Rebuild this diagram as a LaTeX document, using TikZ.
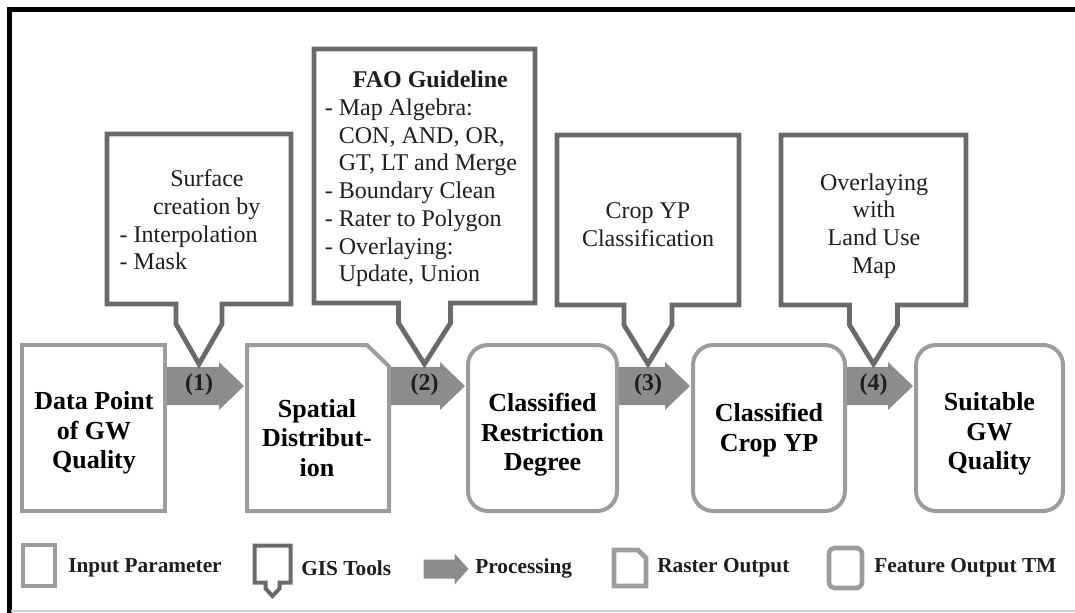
\documentclass[tikz,border=0pt]{standalone}
\usepackage{fontspec}
\setmainfont{Liberation Serif}
\usetikzlibrary{calc}
\definecolor{boxgray}{HTML}{9C9C9C}
\definecolor{callgray}{HTML}{6A6A6A}
\definecolor{arrowgray}{HTML}{8C8C8C}
\definecolor{framegray}{HTML}{D0D0D0}
\definecolor{txtdark}{HTML}{1E1E1E}
\newcommand\procarrow[2]{%
  \fill[proc] ($(#1.east|-ay)+(2,-19)$) -- ($(#2.west|-ay)+(-28,-19)$) -- ($(#2.west|-ay)+(-28,-24)$)
    -- ($(#2.west|-ay)+(-3,0)$) -- ($(#2.west|-ay)+(-28,24)$) -- ($(#2.west|-ay)+(-28,19)$)
    -- ($(#1.east|-ay)+(2,19)$) -- cycle;}
\newcommand\calloutframe[3]{%
  \draw[callline] ($(#1.south)+(-#3,0)$) -- (#1.south west) -- (#1.north west) -- (#1.north east)
    -- (#1.south east) -- ($(#1.south)+(#3,0)$) -- ($(#1.south)+(#3,20)$) -- (#2)
    -- ($(#1.south)+(-#3,20)$) -- cycle;}
\begin{document}
\begin{tikzpicture}[x=0.75pt,y=-0.75pt,
  inbox/.style={draw=boxgray, line width=3pt, minimum height=124.5pt, inner sep=0pt, outer sep=0pt},
  featbox/.style={inbox, rounded corners=15pt},
  rastbox/.style={inbox, draw=none},
  boxtxt/.style={align=center, inner sep=0pt, font=\fontsize{19.5}{22}\selectfont\bfseries},
  callbox/.style={minimum height=127.5pt, inner sep=0pt, outer sep=0pt},
  callline/.style={draw=callgray, line width=3.6pt, line join=miter},
  calltxt/.style={font=\fontsize{18}{20.8}\selectfont, text=txtdark, inner sep=0pt},
  proc/.style={fill=arrowgray},
  plabel/.style={font=\fontsize{18}{20}\selectfont\bfseries, inner sep=0pt, text=txtdark},
  legtxt/.style={font=\fontsize{16}{18}\selectfont\bfseries, anchor=west, inner sep=0pt, text=txtdark},
  legicon/.style={draw=boxgray, line width=3.5pt, inner sep=0pt, outer sep=0pt}
]
\useasboundingbox (0,0) rectangle (1075,612);
% frame
\draw[black, line width=3.5pt] (9.5,615) -- (9.5,9.5) -- (1080,9.5);
\draw[framegray, line width=1.2pt] (11,611) -- (1075,611);

\coordinate (ay) at (0,386);
\coordinate (tipy) at (0,364);
\coordinate (laby) at (0,385);

% main boxes
\node[inbox, minimum width=107.25pt] (b1) at (93.5,428) {};
\node[rastbox, minimum width=106.5pt] (b2) at (318,428) {};
\draw[draw=boxgray, line width=3pt] (b2.south west) -- (b2.north west) -- ([xshift=-16.5pt]b2.north east)
  -- ([yshift=-16pt]b2.north east) -- (b2.south east) -- cycle;
\node[featbox, minimum width=111.75pt] (b3) at (542.5,428) {};
\node[featbox, minimum width=114pt] (b4) at (769,428) {};
\node[featbox, minimum width=110.25pt] (b5) at (989.5,428) {};

\node[boxtxt] (b1t) at (94,433) {Data Point\\of GW\\Quality};
\node[boxtxt] (b2t) at (317,438) {Spatial\\Distribut-\\ion};
\node[boxtxt] (b3t) at (542.5,435) {Classified\\Restriction\\Degree};
\node[boxtxt] (b4t) at (769,430) {Classified\\Crop YP};
\node[boxtxt] (b5t) at (989.5,434) {Suitable\\GW\\Quality};

% processing arrows
\procarrow{b1}{b2}
\procarrow{b2}{b3}
\procarrow{b3}{b4}
\procarrow{b4}{b5}

% callouts
\node[callbox, minimum width=138pt] (c1) at (199,219) {};
\node[callbox, minimum width=165.75pt, minimum height=190.5pt] (c2) at (424.5,176) {};
\node[callbox, minimum width=136.5pt] (c3) at (648,220) {};
\node[callbox, minimum width=138.75pt] (c4) at (873.5,220) {};
\coordinate (t1) at (c1.south |- tipy);
\coordinate (t2) at (c2.south |- tipy);
\coordinate (t3) at (c3.south |- tipy);
\coordinate (t4) at (c4.south |- tipy);
\calloutframe{c1}{t1}{23}
\calloutframe{c2}{t2}{26}
\calloutframe{c3}{t3}{24}
\calloutframe{c4}{t4}{24}

\node[calltxt, align=left] (c1t) at (190,220) {\hspace*{38pt}Surface\\\hspace*{25pt}creation by\\- Interpolation\\- Mask};
\node[calltxt, align=left] (c2t) at (421,179) {\hspace*{21pt}\textbf{FAO Guideline}\\- Map Algebra:\\\hphantom{- }CON, AND, OR,\\\hphantom{- }GT, LT and Merge\\- Boundary Clean\\- Rater to Polygon\\- Overlaying:\\\hphantom{- }Update, Union};
\node[calltxt, align=center] (c3t) at (648,225) {Crop YP\\Classification};
\node[calltxt, align=center] (c4t) at (874,226) {Overlaying\\with\\Land Use\\Map};

% arrow labels
\node[plabel] (l1) at (t1 |- laby) {(1)};
\node[plabel] (l2) at (t2 |- laby) {(2)};
\node[plabel] (l3) at (t3 |- laby) {(3)};
\node[plabel] (l4) at (t4 |- laby) {(4)};

% legend
\node[legicon, minimum width=24pt, minimum height=30.75pt] (li) at (39,565.5) {};
\node[legtxt] (lit) at (68,568) {Input Parameter};

\node[inner sep=0pt, outer sep=0pt, minimum width=27pt, minimum height=27.75pt] (lg) at (272.5,564) {};
\coordinate (lgt) at (272.5,596);
\draw[draw=callgray, line width=3pt, line join=miter] ($(lg.south)+(-7,0)$) -- (lg.south west) -- (lg.north west)
  -- (lg.north east) -- (lg.south east) -- ($(lg.south)+(7,0)$) -- ($(lg.south)+(7,6)$) -- (lgt)
  -- ($(lg.south)+(-7,6)$) -- cycle;
\node[legtxt] (lgtx) at (301,568) {GIS Tools};

\coordinate (lp) at (423.5,569);
\fill[proc] ($(lp)+(0,-9.5)$) -- ($(lp)+(31,-9.5)$) -- ($(lp)+(31,-15.5)$) -- ($(lp)+(45,0)$)
  -- ($(lp)+(31,15.5)$) -- ($(lp)+(31,9.5)$) -- ($(lp)+(0,9.5)$) -- cycle;
\node[legtxt] (lpt) at (475,568) {Processing};

\node[inner sep=0pt, outer sep=0pt, minimum width=24pt, minimum height=27pt] (lr) at (630,568) {};
\draw[legicon] (lr.south west) -- (lr.north west) -- ([xshift=-6pt]lr.north east) -- ([yshift=-6pt]lr.north east)
  -- (lr.south east) -- cycle;
\node[legtxt] (lrt) at (657,568) {Raster Output};

\node[legicon, rounded corners=4.5pt, minimum width=24.75pt, minimum height=30pt] (lf) at (845.5,568) {};
\node[legtxt] (lft) at (874,568) {Feature Output TM};
\end{tikzpicture}
\end{document}
